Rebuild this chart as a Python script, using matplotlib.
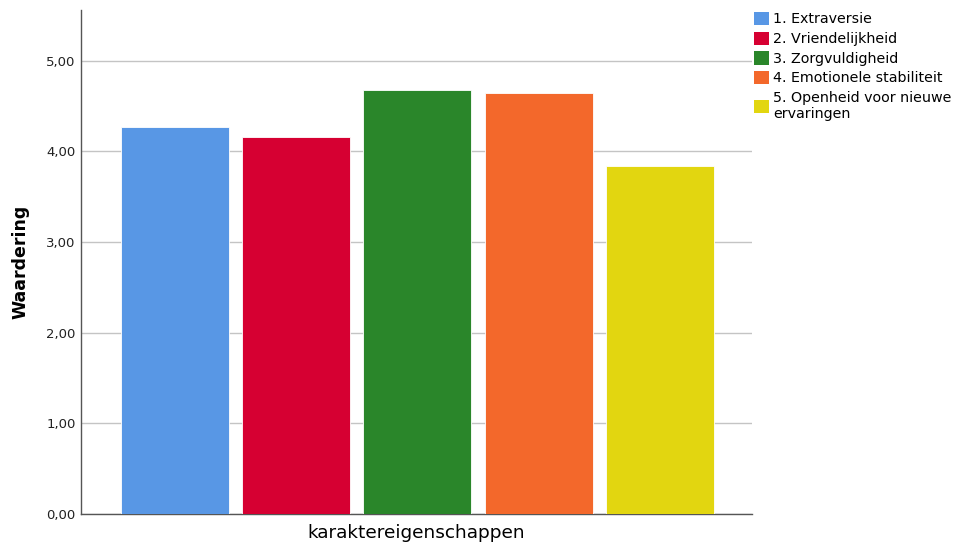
"""Waardering per karaktereigenschap (bar chart, SPSS style)."""

import matplotlib
matplotlib.use("Agg")
import matplotlib.pyplot as plt
from matplotlib.patches import Patch

# ---------------------------------------------------------------
# Data
# ---------------------------------------------------------------
categories = [
    "1. Extraversie",
    "2. Vriendelijkheid",
    "3. Zorgvuldigheid",
    "4. Emotionele stabiliteit",
    "5. Openheid voor nieuwe\nervaringen",
]
values = [4.27, 4.16, 4.68, 4.64, 3.84]
colors = ["#5897E5", "#D60032", "#2A862A", "#F3682B", "#E2D610"]
y_ticks = [0, 1, 2, 3, 4, 5]
y_tick_labels = ["0,00", "1,00", "2,00", "3,00", "4,00", "5,00"]

plt.rcParams["font.family"] = ["DejaVu Sans"]

fig = plt.figure(figsize=(9.62, 5.44), dpi=100)
ax = fig.add_axes([0.0842, 0.0551, 0.6975, 0.9265])

x = list(range(len(values)))
ax.bar(x, values, width=0.89, color=colors, edgecolor="white", linewidth=0.6, zorder=3)

ax.set_xlim(-0.775, 4.76)
ax.set_ylim(0, 5.56)
ax.set_yticks(y_ticks)
ax.set_yticklabels(y_tick_labels, fontsize=9.5, color="#222")
ax.set_xticks([])
ax.tick_params(axis="y", length=0, pad=4)
ax.grid(axis="y", color="#c4c4c4", linewidth=1, zorder=0)
ax.set_axisbelow(True)

for side in ("top", "right"):
    ax.spines[side].set_visible(False)
for side in ("left", "bottom"):
    ax.spines[side].set_color("#555")
    ax.spines[side].set_linewidth(1)

ax.set_ylabel("Waardering", fontsize=12.5, fontweight="bold", labelpad=12)
ax.set_xlabel("karaktereigenschappen", fontsize=13.3, labelpad=7)

handles = [Patch(facecolor=c, edgecolor="none") for c in colors]
fig.legend(
    handles, categories,
    loc="upper left", bbox_to_anchor=(0.784, 0.978),
    frameon=False, fontsize=10.3,
    handlelength=1.05, handleheight=1.05, handletextpad=0.28,
    labelspacing=0.36, borderaxespad=0, borderpad=0,
)

plt.savefig("out.png", dpi=100)
plt.close()
